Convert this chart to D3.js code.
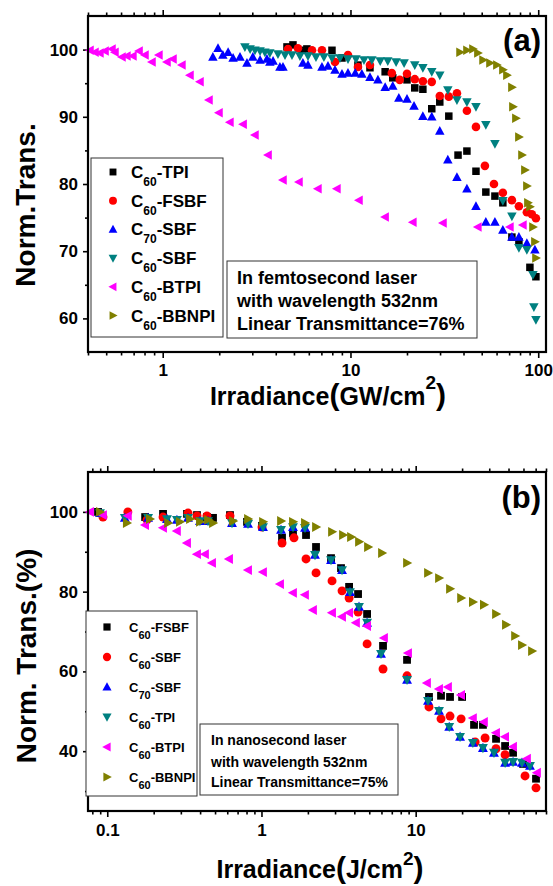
<!DOCTYPE html>
<html><head><meta charset="utf-8">
<script src="https://cdn.jsdelivr.net/npm/d3@7/dist/d3.min.js"></script>
<style>
body{margin:0;background:#fff}
text{font-family:"Liberation Sans",Arial,Helvetica,sans-serif;font-weight:bold;fill:#000}
</style></head>
<body><svg id="chart" width="553" height="886"></svg>
<script>
// ---------- Panel (a): femtosecond, x in GW/cm2, y Norm.Trans. ----------
const aNames = ["C60-TPI","C60-FSBF","C70-SBF","C60-SBF","C60-BTPI","C60-BBNPI"];
const aXTicks = [1,10,100];
const aYTicks = [60,70,80,90,100];
const aYMinor = [65,75,85,95];

const aX_TPI = [4.59,4.94,5.52,5.86,7.97,9.01,10.96,12.7,15.3,16.8,20.0,22.0,24.3,27.1,29.9,33.4,37.4,41.7,46.6,52.6,58.8,64.8,72.4,78.9,90.3,97.2];
const aY_TPI = [100.4,100.7,99.9,100.1,99.9,98.75,97.7,97.3,96.7,95.8,95.5,94.3,94.1,91.2,92.2,90.1,84.3,84.9,81.9,78.8,78.2,77.2,72.1,71.4,67.6,66.2];

const aX_FSBF = [4.65,5.25,6.24,7.05,8.27,9.70,10.96,12.7,16.6,18.3,20.0,22.0,24.3,27.1,29.9,33.4,36.9,41.7,46.6,52.0,58.1,64.8,72.4,78.9,87.0,92.5,97.2];
const aY_FSBF = [100.1,100.2,99.9,99.9,98.15,99.2,97.4,97.7,96.5,95.5,96.4,95.6,95.3,95.2,93.1,93.0,93.5,90.9,88.5,82.7,80.0,78.7,77.6,76.7,75.8,75.5,74.9];

const aX_C70SBF = [1.85,1.97,2.09,2.23,2.37,2.58,2.81,3.02,3.30,3.59,3.72,3.87,4.21,4.37,5.58,5.94,7.05,7.59,8.27,9.01,9.70,10.6,11.5,12.7,14.0,15.3,16.8,18.1,20.0,21.8,24.3,27.1,29.9,33.0,36.9,41.7,46.6,52.6,58.8,64.8,72.4,78.9,87.0,96.0];
const aY_C70SBF = [98.9,100.2,99.2,99.6,98.75,98.9,98.0,98.9,98.45,98.6,98.15,98.3,97.4,97.4,98.0,97.7,97.4,97.56,96.96,96.37,96.5,96.5,96.37,95.9,95.5,94.4,94.6,92.8,92.65,91.6,90.1,90.0,87.9,83.6,81.0,79.3,76.7,74.35,74.35,73.15,72.1,72.1,71.2,70.2];

const aX_SBF = [2.74,2.92,3.10,3.30,3.50,3.72,4.11,4.48,4.88,5.38,5.94,6.55,7.22,7.97,8.79,9.70,10.7,11.8,13.0,14.4,15.8,17.5,19.3,22.0,24.3,27.1,29.9,33.0,36.9,41.7,46.6,52.6,58.8,64.8,72.4,78.9,87.0,93.7,94.8,97.2];
const aY_SBF = [100.4,100.1,99.9,99.8,99.6,99.5,99.35,99.2,99.2,99.05,99.05,98.9,98.9,98.75,98.75,98.6,98.6,98.45,98.45,98.3,98.3,98.15,98.0,97.7,97.3,96.7,96.2,94.0,92.5,92.2,91.5,88.8,86.0,77.5,75.2,70.5,70.2,66.5,61.7,59.8];

const aX_BTPI = [0.41,0.436,0.463,0.493,0.537,0.557,0.607,0.645,0.694,0.748,0.805,0.877,0.955,1.054,1.134,1.266,1.397,1.58,1.764,1.994,2.28,2.68,3.10,3.64,4.37,5.32,6.71,8.47,11.1,15.3,21.5,31.1,47.7,70.7,82.9];
const aY_BTPI = [99.9,99.6,99.5,99.8,100.1,99.6,98.9,99.05,99.05,99.8,99.2,98.15,99.2,98.15,98.6,97.7,96.2,95.2,92.5,90.6,89.2,88.9,87.3,84.3,80.6,80.3,79.3,79.3,77.6,75.1,74.3,74.2,73.6,73.6,73.9];

const aX_BBNPI = [38.3,41.7,44.9,47.7,50.8,55.3,60.2,64.8,68.1,72.4,73.3,76.0,78.9,81.9,84.9,87.0,88.1,90.3,93.7,96.0,97.2];
const aY_BBNPI = [99.6,99.9,100.1,99.5,98.45,98.0,97.7,97.0,96.2,94.4,91.5,89.8,87.0,84.3,82.1,79.7,77.2,76.6,73.6,71.4,69.0];

const aNote = ["In femtosecond laser","with wavelength 532nm","Linear Transmittance=76%"];

// ---------- Panel (b): nanosecond, x in J/cm2, y Norm. Trans.(%) ----------
const bNames = ["C60-FSBF","C60-SBF","C70-SBF","C60-TPI","C60-BTPI","C60-BBNPI"];
const bXTicks = [0.1,1,10];
const bXTickLabels = ["0.1","1","10"];
const bYTicks = [40,60,80,100];
const bYMinor = [30,50,70,90];

const bX_FSBF = [0.0871,0.176,0.230,0.329,0.382,0.443,0.485,0.625,0.806,1.008,1.359,1.601,1.945,2.258,2.825,3.28,3.70,4.23,4.84,6.14,8.79,12.2,14.6,16.7,20.0,23.9,27.3,33.2,38.0,42.8,49.7,60.3];
const bY_FSBF = [100.0,98.7,99.5,99.5,99.2,98.7,98.5,99.2,97.5,96.5,93.5,94.7,94.2,91.2,88.4,85.9,81.2,79.4,74.4,66.4,62.9,53.6,53.9,53.6,53.6,46.6,46.6,43.1,41.3,39.6,36.8,33.1];

const bX_SBF = [0.0938,0.136,0.181,0.230,0.334,0.382,0.443,0.625,1.008,1.359,1.625,1.945,2.258,2.868,3.33,3.70,4.23,4.84,6.14,8.79,12.2,14.6,16.7,19.7,24.3,28.2,33.2,38.0,51.2,60.3];
const bY_SBF = [98.7,100.0,98.0,98.7,99.7,99.0,99.0,99.0,96.2,92.2,93.5,88.2,84.7,82.7,80.2,78.4,74.9,66.9,60.6,58.9,51.1,48.1,48.8,48.1,42.3,43.3,40.6,39.1,33.8,30.8];

const bX_C70SBF = [0.0897,0.130,0.184,0.244,0.283,0.334,0.399,0.450,0.644,0.818,1.023,1.339,1.601,1.915,2.224,2.825,3.33,3.75,4.29,4.84,5.96,8.79,12.02,14.17,16.5,19.4,23.5,27.3,32.2,38.0,42.8,48.9,55.1];
const bY_C70SBF = [99.7,98.5,98.5,98.2,98.0,98.5,97.7,97.7,97.2,97.0,96.2,95.5,96.2,96.0,89.2,87.9,85.4,79.9,76.2,72.2,64.4,57.9,52.6,50.1,46.1,43.6,42.1,40.8,39.6,37.1,37.3,37.1,36.3];

const bX_TPI = [0.0897,0.130,0.184,0.244,0.283,0.334,0.399,0.450,0.644,0.818,1.023,1.339,1.601,1.915,2.224,2.825,3.33,3.75,4.29,4.84,5.96,8.79,12.02,14.17,16.5,19.4,23.5,27.3,32.2,38.0,42.8,48.9,55.1];
const bY_TPI = [99.7,98.5,98.5,98.2,98.0,98.5,97.7,97.7,97.2,97.0,96.2,95.5,96.2,96.0,89.2,87.9,85.4,79.9,76.2,72.2,64.4,57.9,52.6,50.1,46.1,43.6,42.1,40.8,39.6,37.1,37.3,37.1,36.3];

const bX_BTPI = [0.0773,0.0938,0.136,0.176,0.230,0.283,0.329,0.382,0.430,0.478,0.616,0.818,1.023,1.319,1.601,1.915,2.158,2.868,3.33,3.70,4.10,4.84,6.23,8.92,11.84,14.17,16.2,19.7,23.5,27.7,33.2,38.0,42.8,52.7,61.2];
const bY_BTPI = [100.0,99.2,99.0,96.7,96.0,95.2,92.2,89.4,89.4,87.2,88.2,85.4,84.9,81.9,79.7,79.2,75.4,74.7,73.7,74.7,72.2,71.4,68.4,64.6,57.1,55.6,56.1,54.1,48.3,47.3,44.6,43.6,41.1,38.1,34.6];

const bX_BBNPI = [0.0897,0.134,0.189,0.248,0.296,0.344,0.399,0.450,0.485,0.654,0.818,1.023,1.339,1.601,1.915,2.258,2.868,3.38,3.81,4.29,4.91,6.05,8.79,12.02,14.17,16.7,19.7,23.5,27.7,33.2,38.5,44.1,48.9,56.8];
const bY_BBNPI = [100.0,97.2,98.2,97.2,97.5,98.2,97.5,98.0,97.2,97.7,98.2,97.5,97.7,97.5,97.2,96.2,95.0,94.2,93.7,92.5,91.2,89.7,87.2,84.7,83.4,80.7,78.4,77.4,76.7,74.4,71.7,68.9,66.6,65.1];

const bNote = ["In nanosecond laser","with wavelength 532nm","Linear Transmittance=75%"];

// ---------- drawing ----------
const svg = d3.select("#chart");

function markerPath(shape, r) {
  switch (shape) {
    case "square": { const s = r*0.75; return `M${-s},${-s}h${2*s}v${2*s}h${-2*s}Z`; }
    case "circle": return d3.symbol(d3.symbolCircle, Math.PI*Math.pow(r*0.86,2))();
    case "up":    return `M0,${-r}L${r*0.95},${r*0.75}L${-r*0.95},${r*0.75}Z`;
    case "down":  return `M0,${r}L${r*0.95},${-r*0.75}L${-r*0.95},${-r*0.75}Z`;
    case "left":  return `M${-r},0L${r*0.75},${-r*0.95}L${r*0.75},${r*0.95}Z`;
    case "right": return `M${r},0L${-r*0.75},${-r*0.95}L${-r*0.75},${r*0.95}Z`;
  }
}

function logMinor(domain, majors) {
  const out = [];
  const lo = Math.floor(Math.log10(domain[0])), hi = Math.ceil(Math.log10(domain[1]));
  for (let e = lo; e <= hi; e++) for (let k = 1; k <= 9; k++) {
    const v = k*Math.pow(10,e);
    if (v >= domain[0]*0.999 && v <= domain[1]*1.001 && !majors.some(m => Math.abs(m-v)/v < 1e-6)) out.push(v);
  }
  return out;
}

function styleAxis(g) {
  g.select(".domain").remove();
  g.selectAll(".tick line").attr("stroke","#000").attr("stroke-width",1.6);
  g.selectAll("text").style("font-size","17px").attr("fill","#000");
}

function drawPanel(cfg) {
  const x = d3.scaleLog().domain(cfg.xDomain).range([cfg.left, cfg.right]);
  const y = d3.scaleLinear().domain(cfg.yDomain).range([cfg.bottom, cfg.top]);
  const g = svg.append("g");
  const xMinor = logMinor(cfg.xDomain, cfg.xTicks);

  // axes
  g.append("g").attr("transform",`translate(0,${cfg.bottom})`)
    .call(d3.axisBottom(x).tickValues(cfg.xTicks).tickFormat((d,i)=>cfg.xLabels[i]).tickSize(6).tickSizeOuter(0).tickPadding(cfg.xPad))
    .call(styleAxis);
  g.append("g").attr("transform",`translate(0,${cfg.bottom})`)
    .call(d3.axisBottom(x).tickValues(xMinor).tickFormat("").tickSize(3.5).tickSizeOuter(0)).call(styleAxis);
  g.append("g").attr("transform",`translate(0,${cfg.top})`)
    .call(d3.axisTop(x).tickValues(cfg.xTicks).tickFormat("").tickSize(6).tickSizeOuter(0)).call(styleAxis);
  g.append("g").attr("transform",`translate(0,${cfg.top})`)
    .call(d3.axisTop(x).tickValues(xMinor).tickFormat("").tickSize(3.5).tickSizeOuter(0)).call(styleAxis);
  g.append("g").attr("transform",`translate(${cfg.left},0)`)
    .call(d3.axisLeft(y).tickValues(cfg.yTicks).tickSize(5).tickSizeOuter(0).tickPadding(5)).call(styleAxis);
  g.append("g").attr("transform",`translate(${cfg.left},0)`)
    .call(d3.axisLeft(y).tickValues(cfg.yMinor).tickFormat("").tickSize(3).tickSizeOuter(0)).call(styleAxis);

  // data
  cfg.series.forEach(s => {
    const pts = s.x.map((v,i) => [v, s.y[i]]);
    g.append("g").selectAll("path").data(pts).join("path")
      .attr("d", markerPath(s.shape, cfg.r))
      .attr("transform", d => `translate(${x(d[0])},${y(d[1])})`)
      .attr("fill", s.color);
  });

  // frame
  g.append("rect").attr("x",cfg.left).attr("y",cfg.top)
    .attr("width",cfg.right-cfg.left).attr("height",cfg.bottom-cfg.top)
    .attr("fill","none").attr("stroke","#000").attr("stroke-width",2.2);

  // legend
  const L = cfg.legend;
  g.append("rect").attr("x",L.x0).attr("y",L.y0).attr("width",L.x1-L.x0).attr("height",L.y1-L.y0)
    .attr("fill","#fff").attr("stroke","#333").attr("stroke-width",1);
  cfg.series.forEach((s,i) => {
    const cy = L.row0 + i*L.step;
    g.append("path").attr("d", markerPath(s.shape, L.r)).attr("transform",`translate(${L.mx},${cy})`).attr("fill", s.color);
    const m = s.name.match(/^C(\d+)(.*)$/);
    const t = g.append("text").attr("x", L.tx).attr("y", cy + L.base).style("font-size", L.fs+"px");
    t.append("tspan").text("C");
    t.append("tspan").attr("dy", L.subDy).style("font-size", L.subFs+"px").text(m[1]);
    t.append("tspan").attr("dy", -L.subDy).text(m[2]);
  });

  // note box
  const N = cfg.note;
  g.append("rect").attr("x",N.x0).attr("y",N.y0).attr("width",N.x1-N.x0).attr("height",N.y1-N.y0)
    .attr("fill","#fff").attr("stroke","#333").attr("stroke-width",1);
  N.lines.forEach((line,i) => {
    g.append("text").attr("x",N.tx).attr("y",N.bases[i]).style("font-size",N.fs+"px").text(line);
  });

  // panel tag
  g.append("text").attr("x",cfg.right-5).attr("y",cfg.tagY).attr("text-anchor","end")
    .style("font-size","31px").text(cfg.tag);

  // y title
  g.append("text").attr("transform",`translate(${cfg.yTitleX},${cfg.yTitleY}) rotate(-90)`)
    .attr("text-anchor","middle").style("font-size","28px").text(cfg.yTitle);

  // x title
  const xt = g.append("text").attr("x",cfg.xTitleX).attr("y",cfg.xTitleY).attr("text-anchor","middle").style("font-size","25px");
  xt.append("tspan").text("Irradiance");
  xt.append("tspan").style("font-size","30px").text("(");
  xt.append("tspan").text(cfg.xUnit);
  xt.append("tspan").attr("dy",cfg.supDy).style("font-size","19px").text("2");
  xt.append("tspan").attr("dy",-cfg.supDy).style("font-size","30px").text(")");
}

const colors = ["#000000","#ff0000","#0000ff","#008080","#ff00ff","#808000"];

drawPanel({
  left:88, right:546, top:16, bottom:352,
  xDomain:[0.4,110], yDomain:[55,105],
  xTicks:aXTicks, xLabels:aXTicks.map(String), xPad:6,
  yTicks:aYTicks, yMinor:aYMinor, r:5,
  series:[
    {name:aNames[0], x:aX_TPI,    y:aY_TPI,    color:colors[0], shape:"square"},
    {name:aNames[1], x:aX_FSBF,   y:aY_FSBF,   color:colors[1], shape:"circle"},
    {name:aNames[2], x:aX_C70SBF, y:aY_C70SBF, color:colors[2], shape:"up"},
    {name:aNames[3], x:aX_SBF,    y:aY_SBF,    color:colors[3], shape:"down"},
    {name:aNames[4], x:aX_BTPI,   y:aY_BTPI,   color:colors[4], shape:"left"},
    {name:aNames[5], x:aX_BBNPI,  y:aY_BBNPI,  color:colors[5], shape:"right"}
  ],
  legend:{x0:91, y0:158, x1:223, y1:337, row0:172, step:28.7, mx:113, tx:131, base:6, fs:17, subFs:12, subDy:8, r:4.6},
  note:{x0:227, y0:261, x1:477, y1:338, tx:237, bases:[284,307,330], fs:18, lines:aNote},
  tag:"(a)", tagY:51,
  yTitle:"Norm.Trans.", yTitleX:35, yTitleY:205,
  xTitleX:328, xTitleY:405, xUnit:"GW/cm", supDy:-16
});

drawPanel({
  left:88, right:546, top:472, bottom:811,
  xDomain:[0.075,70], yDomain:[25,110],
  xTicks:bXTicks, xLabels:bXTickLabels, xPad:7,
  yTicks:bYTicks, yMinor:bYMinor, r:5.2,
  series:[
    {name:bNames[0], x:bX_FSBF,   y:bY_FSBF,   color:colors[0], shape:"square"},
    {name:bNames[1], x:bX_SBF,    y:bY_SBF,    color:colors[1], shape:"circle"},
    {name:bNames[2], x:bX_C70SBF, y:bY_C70SBF, color:colors[2], shape:"up"},
    {name:bNames[3], x:bX_TPI,    y:bY_TPI,    color:colors[3], shape:"down"},
    {name:bNames[4], x:bX_BTPI,   y:bY_BTPI,   color:colors[4], shape:"left"},
    {name:bNames[5], x:bX_BBNPI,  y:bY_BBNPI,  color:colors[5], shape:"right"}
  ],
  legend:{x0:86, y0:611, x1:197, y1:796, row0:627, step:30, mx:107, tx:129, base:5, fs:13, subFs:11, subDy:7, r:4.8},
  note:{x0:200, y0:724, x1:398, y1:795, tx:211, bases:[745,767,787], fs:14, lines:bNote},
  tag:"(b)", tagY:508,
  yTitle:"Norm. Trans.(%)", yTitleX:36, yTitleY:656,
  xTitleX:320, xTitleY:878, xUnit:"J/cm", supDy:-13
});
</script></body></html>
